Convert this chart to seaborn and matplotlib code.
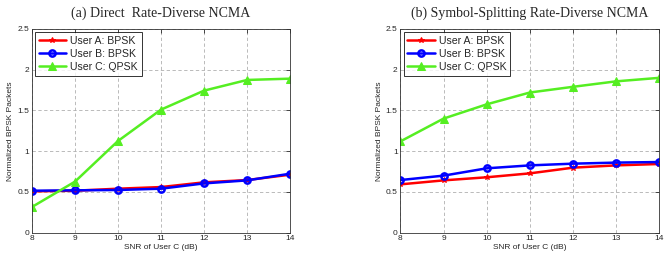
import numpy as np
import pandas as pd
import matplotlib
matplotlib.use('Agg')
import matplotlib.pyplot as plt
import seaborn as sns

# --- data ---
snr = [8, 9, 10, 11, 12, 13, 14]

direct_a = [0.507, 0.515, 0.54, 0.56, 0.618, 0.646, 0.712]
direct_b = [0.515, 0.52, 0.524, 0.54, 0.605, 0.642, 0.724]
direct_c = [0.315, 0.626, 1.125, 1.51, 1.743, 1.874, 1.89]

split_a = [0.593, 0.642, 0.68, 0.728, 0.798, 0.826, 0.843]
split_b = [0.646, 0.70, 0.79, 0.826, 0.847, 0.86, 0.867]
split_c = [1.12, 1.40, 1.575, 1.72, 1.79, 1.857, 1.90]

labels = ['User A: BPSK', 'User B: BPSK', 'User C: QPSK']
titles = ['(a) Direct  Rate-Diverse NCMA', '(b) Symbol-Splitting Rate-Diverse NCMA']

sns.set_style('white')
plt.rcParams['font.family'] = ['Liberation Sans', 'DejaVu Sans']

COLOR_A = '#ff0000'
COLOR_B = '#0000ff'
COLOR_C = '#55ee22'

fig = plt.figure(figsize=(6.64, 2.56), dpi=100)
ax_left = fig.add_axes([0.048, 0.091, 0.389, 0.796])
ax_right = fig.add_axes([0.603, 0.091, 0.390, 0.796])

panels = [(ax_left, direct_a, direct_b, direct_c), (ax_right, split_a, split_b, split_c)]

for i, (ax, a, b, c) in enumerate(panels):
    sns.lineplot(x=snr, y=a, ax=ax, color=COLOR_A, marker='*', markersize=4,
                 markeredgecolor=COLOR_A, lw=1.8, label=labels[0])
    sns.lineplot(x=snr, y=b, ax=ax, color=COLOR_B, marker='o', markersize=4.5,
                 markerfacecolor='none', markeredgecolor=COLOR_B, markeredgewidth=1.8,
                 lw=1.8, label=labels[1])
    sns.lineplot(x=snr, y=c, ax=ax, color=COLOR_C, marker='^', markersize=6,
                 markeredgecolor=COLOR_C, lw=1.8, label=labels[2])

    ax.set_xlim(8, 14)
    ax.set_ylim(0, 2.5)
    ax.set_xticks(snr)
    ax.set_yticks([0, 0.5, 1, 1.5, 2, 2.5])
    ax.set_yticklabels(['0', '0.5', '1', '1.5', '2', '2.5'])
    ax.tick_params(axis='both', direction='in', labelsize=6, length=3, width=0.6,
                   top=True, right=True, pad=2)
    ax.grid(True, linestyle=(0, (4, 3)), color='#b0b0b0', lw=0.6)
    for s in ax.spines.values():
        s.set_color('#333333')
        s.set_linewidth(0.6)
    ax.set_xlabel('SNR of User C (dB)', fontsize=6, labelpad=1)
    ax.set_ylabel('Normalized BPSK Packets', fontsize=6, labelpad=2)
    ax.set_title(titles[i], fontsize=10, family='Liberation Serif', pad=9)
    leg = ax.legend(loc='upper left', fontsize=7.6, frameon=True, fancybox=False,
                    borderaxespad=0.3, handlelength=2.6, handletextpad=0.4,
                    labelspacing=0.3, borderpad=0.35)
    leg.get_frame().set_edgecolor('black')
    leg.get_frame().set_linewidth(0.7)

fig.savefig('out.png', dpi=100)
